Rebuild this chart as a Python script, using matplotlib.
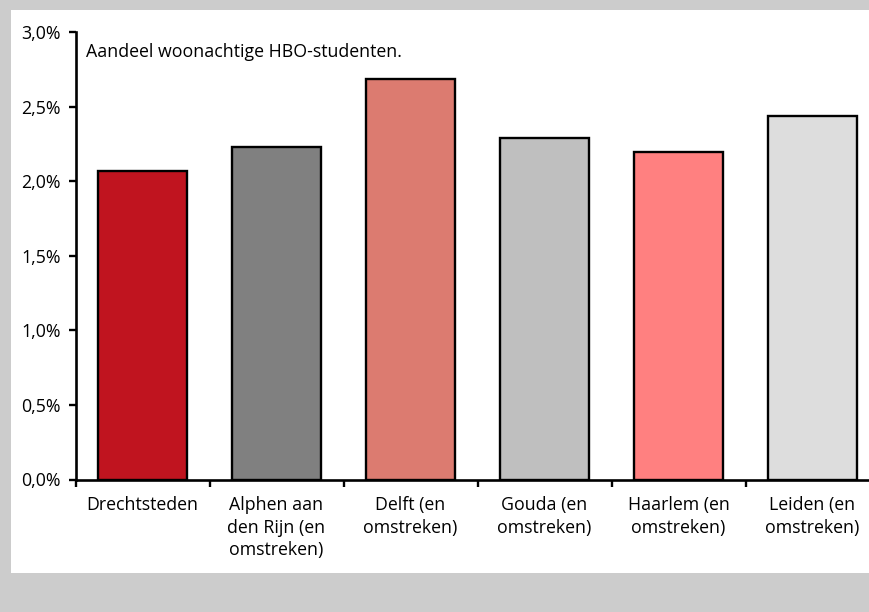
import matplotlib.pyplot as plt
from matplotlib.patches import Rectangle
from matplotlib.ticker import FuncFormatter

# Data
regions = [
    "Drechtsteden",
    "Alphen aan\nden Rijn (en\nomstreken)",
    "Delft (en\nomstreken)",
    "Gouda (en\nomstreken)",
    "Haarlem (en\nomstreken)",
    "Leiden (en\nomstreken)",
]
share = [2.07, 2.23, 2.69, 2.29, 2.20, 2.44]
colors = ["#c0141f", "#808080", "#dc7b70", "#bfbfbf", "#ff8080", "#dddddd"]
y_ticks = [0.0, 0.5, 1.0, 1.5, 2.0, 2.5, 3.0]
note = "Aandeel woonachtige HBO-studenten."

plt.rcParams["font.family"] = ["Open Sans", "DejaVu Sans"]
fs = 12.8

W, H = 869, 612
fig = plt.figure(figsize=(W / 100, H / 100), dpi=100)
fig.patch.set_facecolor("#cccccc")

# White panel
fig.patches.append(
    Rectangle((11 / W, 1 - 573 / H), 858 / W, 563 / H,
              transform=fig.transFigure, facecolor="white", edgecolor="none", zorder=-1)
)

# Axes (extends past the right edge, like the reference crop)
left, right = 75.5, 75.5 + 6 * 134
bottom, top = 479.5, 32.3
ax = fig.add_axes([left / W, 1 - bottom / H, (right - left) / W, (bottom - top) / H])
ax.set_facecolor("none")
ax.set_zorder(2)

x = range(len(regions))
ax.bar(x, share, width=0.66, color=colors, edgecolor="black", linewidth=1.7, zorder=3)

ax.set_xlim(-0.5, len(regions) - 0.5)
ax.set_ylim(0, 3.0)
ax.set_yticks(y_ticks)
ax.yaxis.set_major_formatter(FuncFormatter(lambda v, p: f"{v:.1f}%".replace(".", ",")))

# Category labels centred, ticks on category boundaries
ax.set_xticks(list(x))
ax.set_xticklabels(regions, linespacing=1.32)
ax.set_xticks([i + 0.5 for i in range(-1, len(regions))], minor=True)
ax.tick_params(axis="x", which="major", length=0, pad=12, labelsize=fs)
ax.tick_params(axis="x", which="minor", length=5, width=1.7, direction="out")
ax.tick_params(axis="y", length=5, width=1.7, pad=5.5, labelsize=fs)

for side in ["top", "right"]:
    ax.spines[side].set_visible(False)
for side in ["left", "bottom"]:
    ax.spines[side].set_linewidth(1.9)

fig.text(86 / W, 1 - 57 / H, note, fontsize=fs, va="baseline", ha="left", zorder=3)

fig.savefig("out.png", dpi=100, facecolor=fig.get_facecolor())
